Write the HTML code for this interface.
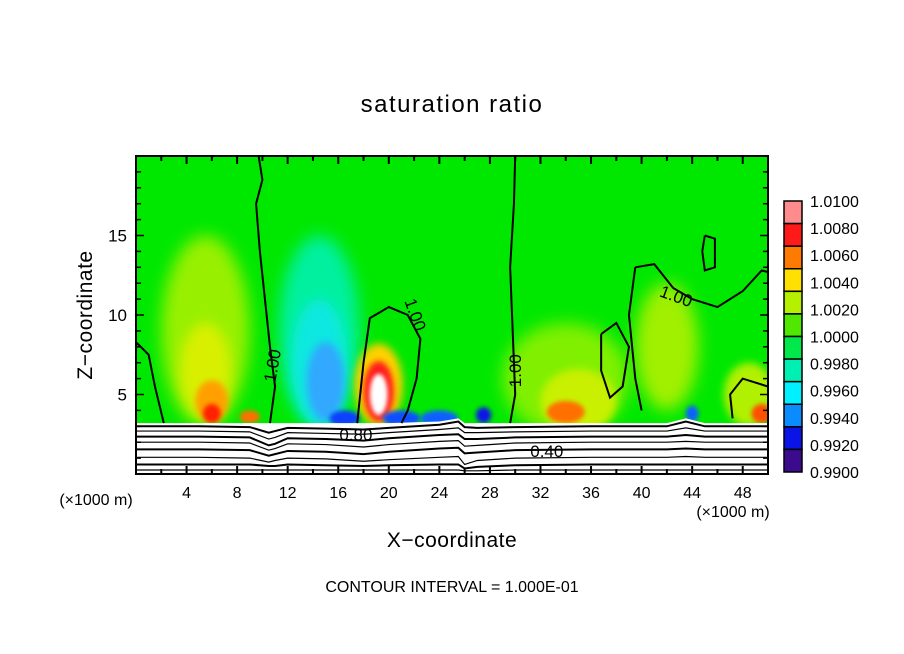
<!DOCTYPE html>
<html><head><meta charset="utf-8"><style>
body{margin:0;background:#fff;}
svg{display:block;font-family:"Liberation Sans",sans-serif;}
</style></head><body>
<svg id="chart" width="904" height="654" viewBox="0 0 904 654">
<defs>
<filter id="b8" x="-50%" y="-50%" width="200%" height="200%"><feGaussianBlur stdDeviation="8"/></filter>
<filter id="b6" x="-50%" y="-50%" width="200%" height="200%"><feGaussianBlur stdDeviation="6"/></filter>
<filter id="b4" x="-50%" y="-50%" width="200%" height="200%"><feGaussianBlur stdDeviation="4"/></filter>
<filter id="b3" x="-50%" y="-50%" width="200%" height="200%"><feGaussianBlur stdDeviation="3"/></filter>
<filter id="b2" x="-50%" y="-50%" width="200%" height="200%"><feGaussianBlur stdDeviation="2"/></filter>
<clipPath id="pc"><rect x="136" y="156" width="632" height="318"/></clipPath>
</defs>
<text x="452" y="112" text-anchor="middle" font-size="24" letter-spacing="1.5">saturation ratio</text>
<g id="plot" clip-path="url(#pc)"></g>
<g id="axes"></g>
<g id="cbar"></g>
<text transform="translate(92,315) rotate(-90)" text-anchor="middle" font-size="21" letter-spacing="0.5">Z−coordinate</text>
<text x="452" y="547" text-anchor="middle" font-size="21" letter-spacing="0.5">X−coordinate</text>
<text x="96" y="505" text-anchor="middle" font-size="16">(×1000 m)</text>
<text x="733" y="517" text-anchor="middle" font-size="16">(×1000 m)</text>
<text x="452" y="592" text-anchor="middle" font-size="16">CONTOUR INTERVAL = 1.000E-01</text>
</svg>
<script>
const NS="http://www.w3.org/2000/svg";
const X0=136,X1=768,Y0=474,Y1=156;
const xs=v=>X0+(v/50)*(X1-X0);
const zs=v=>Y0-(v/20)*(Y0-Y1);
const xTicks=[4,8,12,16,20,24,28,32,36,40,44,48];
const zTicks=[5,10,15];
const cbLabels=["1.0100","1.0080","1.0060","1.0040","1.0020","1.0000","0.9980","0.9960","0.9940","0.9920","0.9900"];
const cbColors=["#ff8c8c","#ff1a1a","#ff7a00","#ffe000","#b4f000","#50e800","#00e84a","#00f0b4","#00f0ff","#0a8cff","#0a14e6","#3c0a8c"];
const blobX=[5.5,5.5,6,6,14.5,14.5,15,19.2,19.2,19.2,34,35,34,42,48.5,49.5,21,24,27.5,16.5,44,9];
const blobZ=[9,6.5,4.6,3.8,9,7,5.8,5.6,5.2,5.0,6,4.6,3.9,8,5,3.8,3.5,3.5,3.7,3.5,3.8,3.6];
const blobRX=[3.5,2.0,1.3,0.7,3.2,2.2,1.5,1.9,1.2,0.7,5,3,1.5,2.5,2,0.8,1.5,1.5,0.6,1.2,0.5,0.8];
const blobRZ=[6,3,1.3,0.6,6,4,2.5,2.6,1.9,1.3,3.5,2,0.7,4,2,0.6,0.5,0.5,0.5,0.5,0.5,0.4];
const blobC=["#98f000","#d8f000","#ffa000","#ff2000","#00f0a0","#10e8e0","#30a8ff","#ffd000","#ff1a1a","#ffffff","#80f000","#c8f000","#ff7000","#a0f000","#b0f000","#ff5000","#1050ff","#1060ff","#0a14e6","#0a40ff","#0a60ff","#ff7000"];
const blobB=[8,6,3,2,8,6,4,4,3,2,8,4,2,8,4,2,2,2,2,2,2,2];
const xGrid=[0,5,9,10.5,11,12,15,18,20,24,25.5,26,27,30,36,42,43.5,45,50];
const lowLevels=["0.90","0.80","0.70","0.60","0.50","0.40","0.30","0.20","0.10"];
const lowZ=[
[3.0,3.0,2.95,2.6,2.7,2.9,2.85,2.8,2.9,3.1,3.3,2.95,2.9,2.95,3.0,3.0,3.3,3.0,3.0],
[2.7,2.7,2.65,2.2,2.3,2.6,2.55,2.5,2.6,2.8,2.9,2.6,2.6,2.65,2.7,2.7,2.9,2.7,2.7],
[2.35,2.35,2.3,1.8,1.9,2.25,2.2,2.1,2.25,2.45,2.5,2.2,2.2,2.3,2.35,2.35,2.45,2.35,2.35],
[2.0,2.0,1.95,1.5,1.6,1.9,1.85,1.7,1.85,2.05,2.1,1.75,1.8,1.95,2.0,2.0,2.05,2.0,2.0],
[1.55,1.55,1.5,1.15,1.25,1.45,1.4,1.25,1.4,1.6,1.65,1.3,1.35,1.5,1.55,1.55,1.6,1.55,1.55],
[1.05,1.05,1.0,0.75,0.85,1.0,0.95,0.8,0.9,1.05,1.1,0.6,0.85,1.0,1.05,1.05,1.1,1.05,1.05],
[0.6,0.6,0.6,0.5,0.5,0.6,0.55,0.5,0.55,0.6,0.6,0.35,0.45,0.55,0.6,0.6,0.6,0.6,0.6],
[0.25,0.25,0.25,0.25,0.25,0.25,0.25,0.25,0.25,0.25,0.25,0.2,0.2,0.25,0.25,0.25,0.25,0.25,0.25]];
const c100=[
[[9.7,20],[10,18.5],[9.5,17],[9.8,14],[10.2,11],[10.6,8],[11,5.5],[10.6,3.2]],
[[0,8.3],[1,7.5],[1.5,5.5],[2.2,3.2]],
[[17.5,3.2],[18,7],[18.5,9.8],[20,10.5],[21.5,10],[22.5,8.5],[22.2,6],[21.5,4],[21,3.2]],
[[30,20],[29.9,17],[29.6,13],[29.8,9],[30,5],[29.6,3.2]],
[[36.8,8.8],[38,9.5],[39,8],[38.5,5.5],[37.5,4.8],[36.8,6.5],[36.8,8.8]],
[[39.5,13],[41,13.2],[42.5,11.7],[44,11],[46,10.5],[48,11.5],[49.5,12.8],[50,12.7]],
[[45,15],[45.8,14.8],[45.8,13],[45,12.8],[44.8,14],[45,15]],
[[50,5.5],[48,6],[47,5],[47.2,3.5]],
[[39.5,13],[39,10],[39.5,6],[40,4]]];
const plot=document.getElementById('plot');
function el(tag,attrs,parent){const e=document.createElementNS(NS,tag);for(const k in attrs)e.setAttribute(k,attrs[k]);parent.appendChild(e);return e;}
const bg=el('rect',{x:X0,y:Y1,width:X1-X0,height:Y0-Y1,fill:'#00e800'},plot);


blobX.forEach((v,i)=>{
 const e=el('ellipse',{cx:xs(v),cy:zs(blobZ[i]),rx:blobRX[i]*(X1-X0)/50,ry:blobRZ[i]*(Y0-Y1)/20,fill:blobC[i],filter:'url(#b'+blobB[i]+')'},plot);
 
 
});
const firstRow=lowZ[0];
let wd='M'+xs(0)+','+Y0;
xGrid.forEach((x,i)=>{wd+=' L'+xs(x)+','+zs(Math.max(3.2,firstRow[i]+0.2));});
wd+=' L'+xs(50)+','+Y0+' Z';
const wl=el('path',{d:wd,fill:'#fff'},plot);


lowZ.forEach((row,j)=>{
 let p='';xGrid.forEach((x,i)=>{p+=(i?' L':'M')+xs(x)+','+zs(row[i]);});
 const e=el('path',{d:p,fill:'none',stroke:'#000','stroke-width':(j%2?1.2:2)},plot);
 
 
});
c100.forEach(pts=>{
 let p='';pts.forEach((q,i)=>{p+=(i?' L':'M')+xs(q[0])+','+zs(q[1]);});
 const e=el('path',{d:p,fill:'none',stroke:'#000','stroke-width':2},plot);
 
 
});
const labs=[[10.9,6.8,-80,"1.00"],[22,10,70,"1.00"],[30.1,6.5,-90,"1.00"],[42.7,11.1,20,"1.00"],[17.4,2.4,0,"0.80"],[32.5,1.35,0,"0.40"]];
labs.forEach(l=>{
 const t=el('text',{x:xs(l[0]),y:zs(l[1]),'font-size':17,'text-anchor':'middle','dominant-baseline':'middle',transform:`rotate(${l[2]} ${xs(l[0])} ${zs(l[1])})`},plot);
 t.textContent=l[3];
 
 
});
const ax=document.getElementById('axes');


el('rect',{x:X0,y:Y1,width:X1-X0,height:Y0-Y1,fill:'none',stroke:'#000','stroke-width':2},ax);
for(let v=2;v<50;v+=2){const L=(v%4==0)?8:5;
 el('line',{x1:xs(v),x2:xs(v),y1:Y0,y2:Y0-L,stroke:'#000','stroke-width':2},ax);
 el('line',{x1:xs(v),x2:xs(v),y1:Y1,y2:Y1+L,stroke:'#000','stroke-width':2},ax);}
for(let v=1;v<20;v++){const L=(v%5==0)?8:5;
 el('line',{x1:X0,x2:X0+L,y1:zs(v),y2:zs(v),stroke:'#000','stroke-width':1.5},ax);
 el('line',{x1:X1,x2:X1-L,y1:zs(v),y2:zs(v),stroke:'#000','stroke-width':1.5},ax);}
xTicks.forEach(v=>{const t=el('text',{x:xs(v),y:498,'font-size':16,'text-anchor':'middle'},ax);t.textContent=v;
 
 });
zTicks.forEach(v=>{const t=el('text',{x:127,y:zs(v)+6,'font-size':17,'text-anchor':'end'},ax);t.textContent=v;
 
 });
const cb=document.getElementById('cbar');
const CT=201,CB=472,CX=784,CW=18;
const bh=(CB-CT)/cbColors.length;
cbColors.forEach((c,i)=>{const r=el('rect',{x:CX,y:CT+i*bh,width:CW,height:bh,fill:c,stroke:'#000','stroke-width':1.5},cb);
 
 });
cbLabels.forEach((s,i)=>{const t=el('text',{x:810,y:CT+i*(CB-CT)/(cbLabels.length-1)+6,'font-size':16},cb);t.textContent=s;
 
 });
</script>
</body></html>
